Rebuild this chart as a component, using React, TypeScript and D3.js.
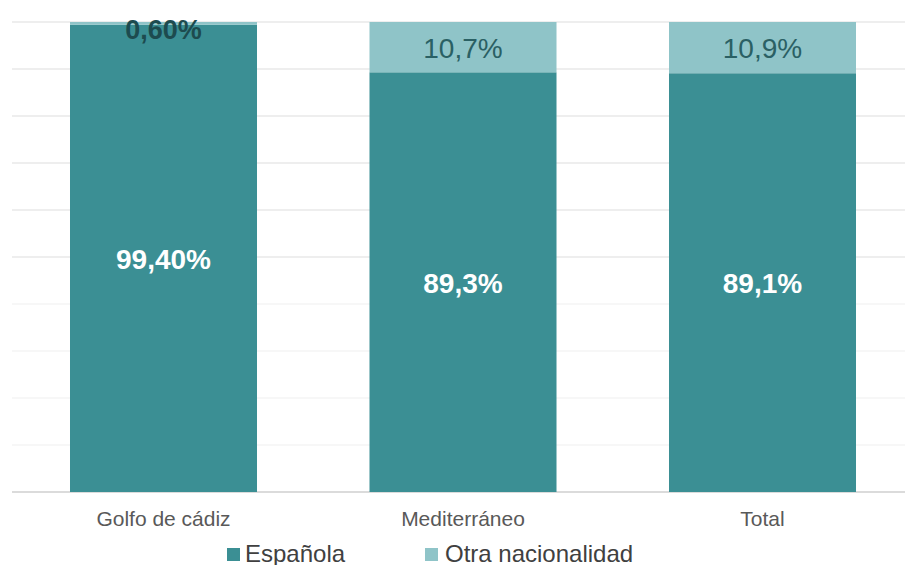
import React from "react";
import * as d3 from "d3";

const categories = ["Golfo de cádiz", "Mediterráneo", "Total"];
const espanola = [99.4, 89.3, 89.1];
const otra = [0.6, 10.7, 10.9];
const espanolaLabels = ["99,40%", "89,3%", "89,1%"];
const otraLabels = ["0,60%", "10,7%", "10,9%"];
const seriesNames = ["Española", "Otra nacionalidad"];
const gridTicks = [0, 10, 20, 30, 40, 50, 60, 70, 80, 90, 100];

const W = 910, H = 565;
const colEsp = "#3b8f94";
const colOtra = "#8fc4c8";

export default function App() {
  const x = d3.scaleBand().domain(categories).range([13.75, 912.25]).paddingInner(0.3756).paddingOuter(0.1878);
  const y = d3.scaleLinear().domain([0, 100]).range([492, 22]);
  const font = "'Liberation Sans', Arial, sans-serif";
  return (
    <svg width={W} height={H} style={{ position: "absolute", left: 0, top: 0 }} fontFamily={font}>
      <rect width={W} height={H} fill="#fff" />
      {gridTicks.slice(1).map((t) => (
        <line key={t} x1={12} x2={905} y1={y(t)} y2={y(t)} stroke={t >= 50 ? "#e9e9e9" : "#f4f4f4"} strokeWidth={1.5} />
      ))}
      <line x1={12} x2={905} y1={y(0)} y2={y(0)} stroke="#cfcfcf" strokeWidth={1.5} />
      {categories.map((c, i) => {
        const bx = x(c)!;
        const bw = x.bandwidth();
        const cx = bx + bw / 2;
        const small = otra[i] < 3;
        return (
          <g key={c}>
            <rect x={bx} width={bw} y={y(espanola[i])} height={y(0) - y(espanola[i])} fill={colEsp} />
            <rect x={bx} width={bw} y={y(100)} height={y(espanola[i]) - y(100)} fill={colOtra} />
            <text x={cx} y={(y(0) + y(espanola[i])) / 2 + 1} textAnchor="middle" dominantBaseline="central" fill="#fff" fontWeight="bold" fontSize={28}>
              {espanolaLabels[i]}
            </text>
            <text
              x={cx}
              y={small ? y(100) + 8 : (y(100) + y(espanola[i])) / 2 + 1}
              textAnchor="middle"
              dominantBaseline="central"
              fill={small ? "#1d4b4f" : "#2a6064"}
              fontWeight={small ? "bold" : "normal"}
              fontSize={small ? 27 : 28}
            >
              {otraLabels[i]}
            </text>
            <text x={cx} y={518} textAnchor="middle" dominantBaseline="central" fill="#595959" fontSize={21}>
              {c}
            </text>
          </g>
        );
      })}
      <g>
        <rect x={227} y={548} width={13} height={13} fill={colEsp} />
        <text x={245} y={553} dominantBaseline="central" fill="#404040" fontSize={24}>{seriesNames[0]}</text>
        <rect x={425} y={548} width={13} height={13} fill={colOtra} />
        <text x={445} y={553} dominantBaseline="central" fill="#404040" fontSize={24}>{seriesNames[1]}</text>
      </g>
    </svg>
  );
}
